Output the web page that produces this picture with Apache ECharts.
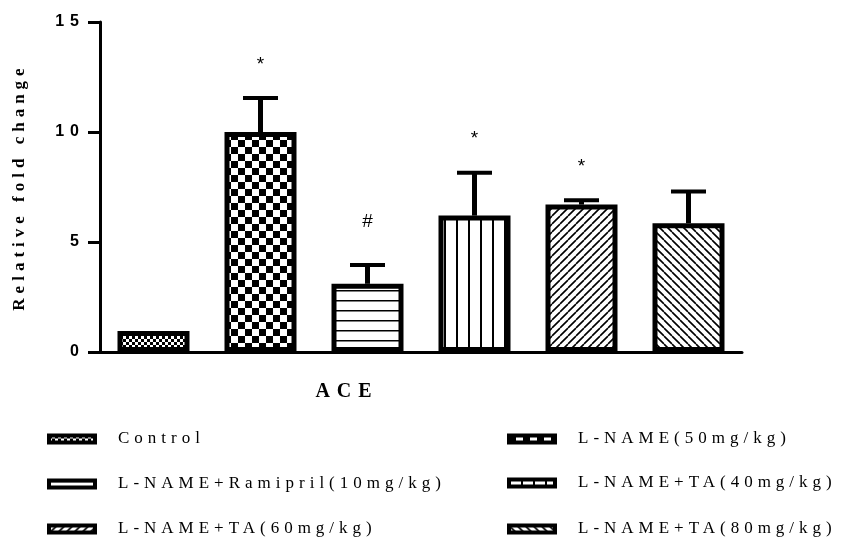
<!DOCTYPE html>
<html>
<head>
<meta charset="utf-8">
<script src="https://cdn.jsdelivr.net/npm/echarts@6/dist/echarts.min.js"></script>
<style>
html,body{margin:0;padding:0;background:#fff;}
#chart{width:860px;height:544px;}
</style>
</head>
<body>
<div id="chart"></div>
<script>
// ---- data ----
const categories = ['Control', 'L-NAME(50mg/kg)', 'L-NAME+Ramipril(10mg/kg)', 'L-NAME+TA(40mg/kg)', 'L-NAME+TA(60mg/kg)', 'L-NAME+TA(80mg/kg)'];
const values = [0.95, 10.0, 3.1, 6.2, 6.7, 5.85];
const errors = [0, 1.55, 0.85, 1.95, 0.2, 1.45];
const sigLabels = ['', '*', '#', '*', '*', ''];
const groupLabel = 'ACE';
const yAxisTitle = 'Relative fold change';

// ---- letter spacing emulation (per font) ----
function spacingFor(f) {
  if (/Liberation Serif/.test(f)) {
    if (/20px/.test(f)) return '7px';
    if (/17px/.test(f)) return '5px';
  }
  if (/Liberation Sans/.test(f) && /16px/.test(f) && /bold/.test(f)) return '6px';
  return '0px';
}
(function () {
  const proto = CanvasRenderingContext2D.prototype;
  const d = Object.getOwnPropertyDescriptor(proto, 'font');
  if (!d || !('letterSpacing' in proto)) return;
  Object.defineProperty(proto, 'font', {
    configurable: true,
    enumerable: d.enumerable,
    get() { return d.get.call(this); },
    set(v) { d.set.call(this, v); try { this.letterSpacing = spacingFor(String(v)); } catch (e) {} }
  });
})();

// ---- fill patterns ----
function makeCanvas(w, h) {
  const c = document.createElement('canvas');
  c.width = w; c.height = h;
  const ctx = c.getContext('2d');
  ctx.fillStyle = '#fff';
  ctx.fillRect(0, 0, w, h);
  ctx.fillStyle = '#000';
  ctx.strokeStyle = '#000';
  return [c, ctx];
}
function checker(cell) {
  const [c, ctx] = makeCanvas(cell * 2, cell * 2);
  ctx.fillRect(0, 0, cell, cell);
  ctx.fillRect(cell, cell, cell, cell);
  return { image: c, repeat: 'repeat' };
}
function hLines(step, w) {
  const [c, ctx] = makeCanvas(8, step);
  ctx.fillRect(0, 0, 8, w);
  return { image: c, repeat: 'repeat' };
}
function vLines(step, w) {
  const [c, ctx] = makeCanvas(step, 8);
  ctx.fillRect(0, 0, w, 8);
  return { image: c, repeat: 'repeat' };
}
function diag(step, w, up) {
  const [c, ctx] = makeCanvas(step, step);
  ctx.lineWidth = w;
  ctx.beginPath();
  for (const k of [-step, 0, step]) {
    if (up) { ctx.moveTo(k, step); ctx.lineTo(k + step, 0); }
    else { ctx.moveTo(k, 0); ctx.lineTo(k + step, step); }
  }
  ctx.stroke();
  return { image: c, repeat: 'repeat' };
}
const patterns = [checker(3), checker(7), hLines(10, 1.5), vLines(12, 2), diag(8, 1.6, true), diag(8, 1.6, false)];

// ---- layout of legend items (px) ----
const legendLayout = [[47, 439], [507, 439], [47, 484], [507, 483], [47, 529], [507, 529]];

const chart = echarts.init(document.getElementById('chart'), null, { renderer: 'canvas' });

const series = categories.map((name, i) => ({
  name: name,
  type: 'bar',
  barWidth: 72,
  barGap: '-100%',
  data: categories.map((c, j) => (j === i ? values[i] : '-')),
  itemStyle: { color: patterns[i], borderColor: '#000', borderWidth: 5 },
  emphasis: { disabled: true },
  silent: true,
  z: 2
}));

series.push({
  type: 'custom',
  name: 'err',
  silent: true,
  z: 3,
  data: categories.map((c, i) => [i, values[i], errors[i]]),
  renderItem: function (params, api) {
    const x = api.value(0), v = api.value(1), e = api.value(2);
    const p0 = api.coord([x, v]);
    const p1 = api.coord([x, v + e]);
    const children = [];
    if (e > 0) {
      children.push({ type: 'line', shape: { x1: p0[0], y1: p0[1], x2: p1[0], y2: p1[1] }, style: { stroke: '#000', lineWidth: 5 } });
      children.push({ type: 'line', shape: { x1: p1[0] - 17.5, y1: p1[1], x2: p1[0] + 17.5, y2: p1[1] }, style: { stroke: '#000', lineWidth: 4 } });
    }
    const s = sigLabels[params.dataIndex];
    if (s) {
      const gap = s === '#' ? 34 : 24;
      children.push({ type: 'text', x: p1[0], y: p1[1] - gap, style: { text: s, fill: '#000', font: '19px "Liberation Sans"', align: 'center', verticalAlign: 'bottom' } });
    }
    return { type: 'group', children: children };
  }
});

const legends = categories.map((name, i) => ({
  data: [name],
  left: legendLayout[i][0],
  top: legendLayout[i][1] - 11,
  padding: 0,
  orient: 'horizontal',
  selectedMode: false,
  icon: 'rect',
  itemWidth: 46,
  itemHeight: 7,
  itemStyle: { borderWidth: 4, borderColor: '#000' },
  textStyle: { fontFamily: 'Liberation Serif', fontSize: 17, color: '#000', padding: [0, 0, 0, 18] }
}));

chart.setOption({
  backgroundColor: '#fff',
  animation: false,
  grid: { left: 100, right: 118, top: 22, bottom: 192, containLabel: false },
  legend: legends,
  xAxis: {
    type: 'category',
    data: categories,
    axisLine: { lineStyle: { color: '#000', width: 3 } },
    axisTick: { show: false },
    axisLabel: { show: false },
    name: groupLabel,
    nameLocation: 'middle',
    nameGap: 26,
    nameTextStyle: { fontFamily: 'Liberation Serif', fontWeight: 'bold', fontSize: 20, color: '#000', padding: [0, 148, 0, 0] }
  },
  yAxis: {
    type: 'value',
    min: 0, max: 15, interval: 5,
    axisLine: { show: true, lineStyle: { color: '#000', width: 3 } },
    axisTick: { show: true, length: 12, inside: false, lineStyle: { color: '#000', width: 3 } },
    axisLabel: { margin: 15, fontFamily: 'Liberation Sans', fontWeight: 'bold', fontSize: 16, color: '#000' },
    splitLine: { show: false },
    name: yAxisTitle,
    nameLocation: 'middle',
    nameGap: 69,
    nameTextStyle: { fontFamily: 'Liberation Serif', fontWeight: 'bold', fontSize: 17, color: '#000' }
  },
  series: series
});
</script>
</body>
</html>
